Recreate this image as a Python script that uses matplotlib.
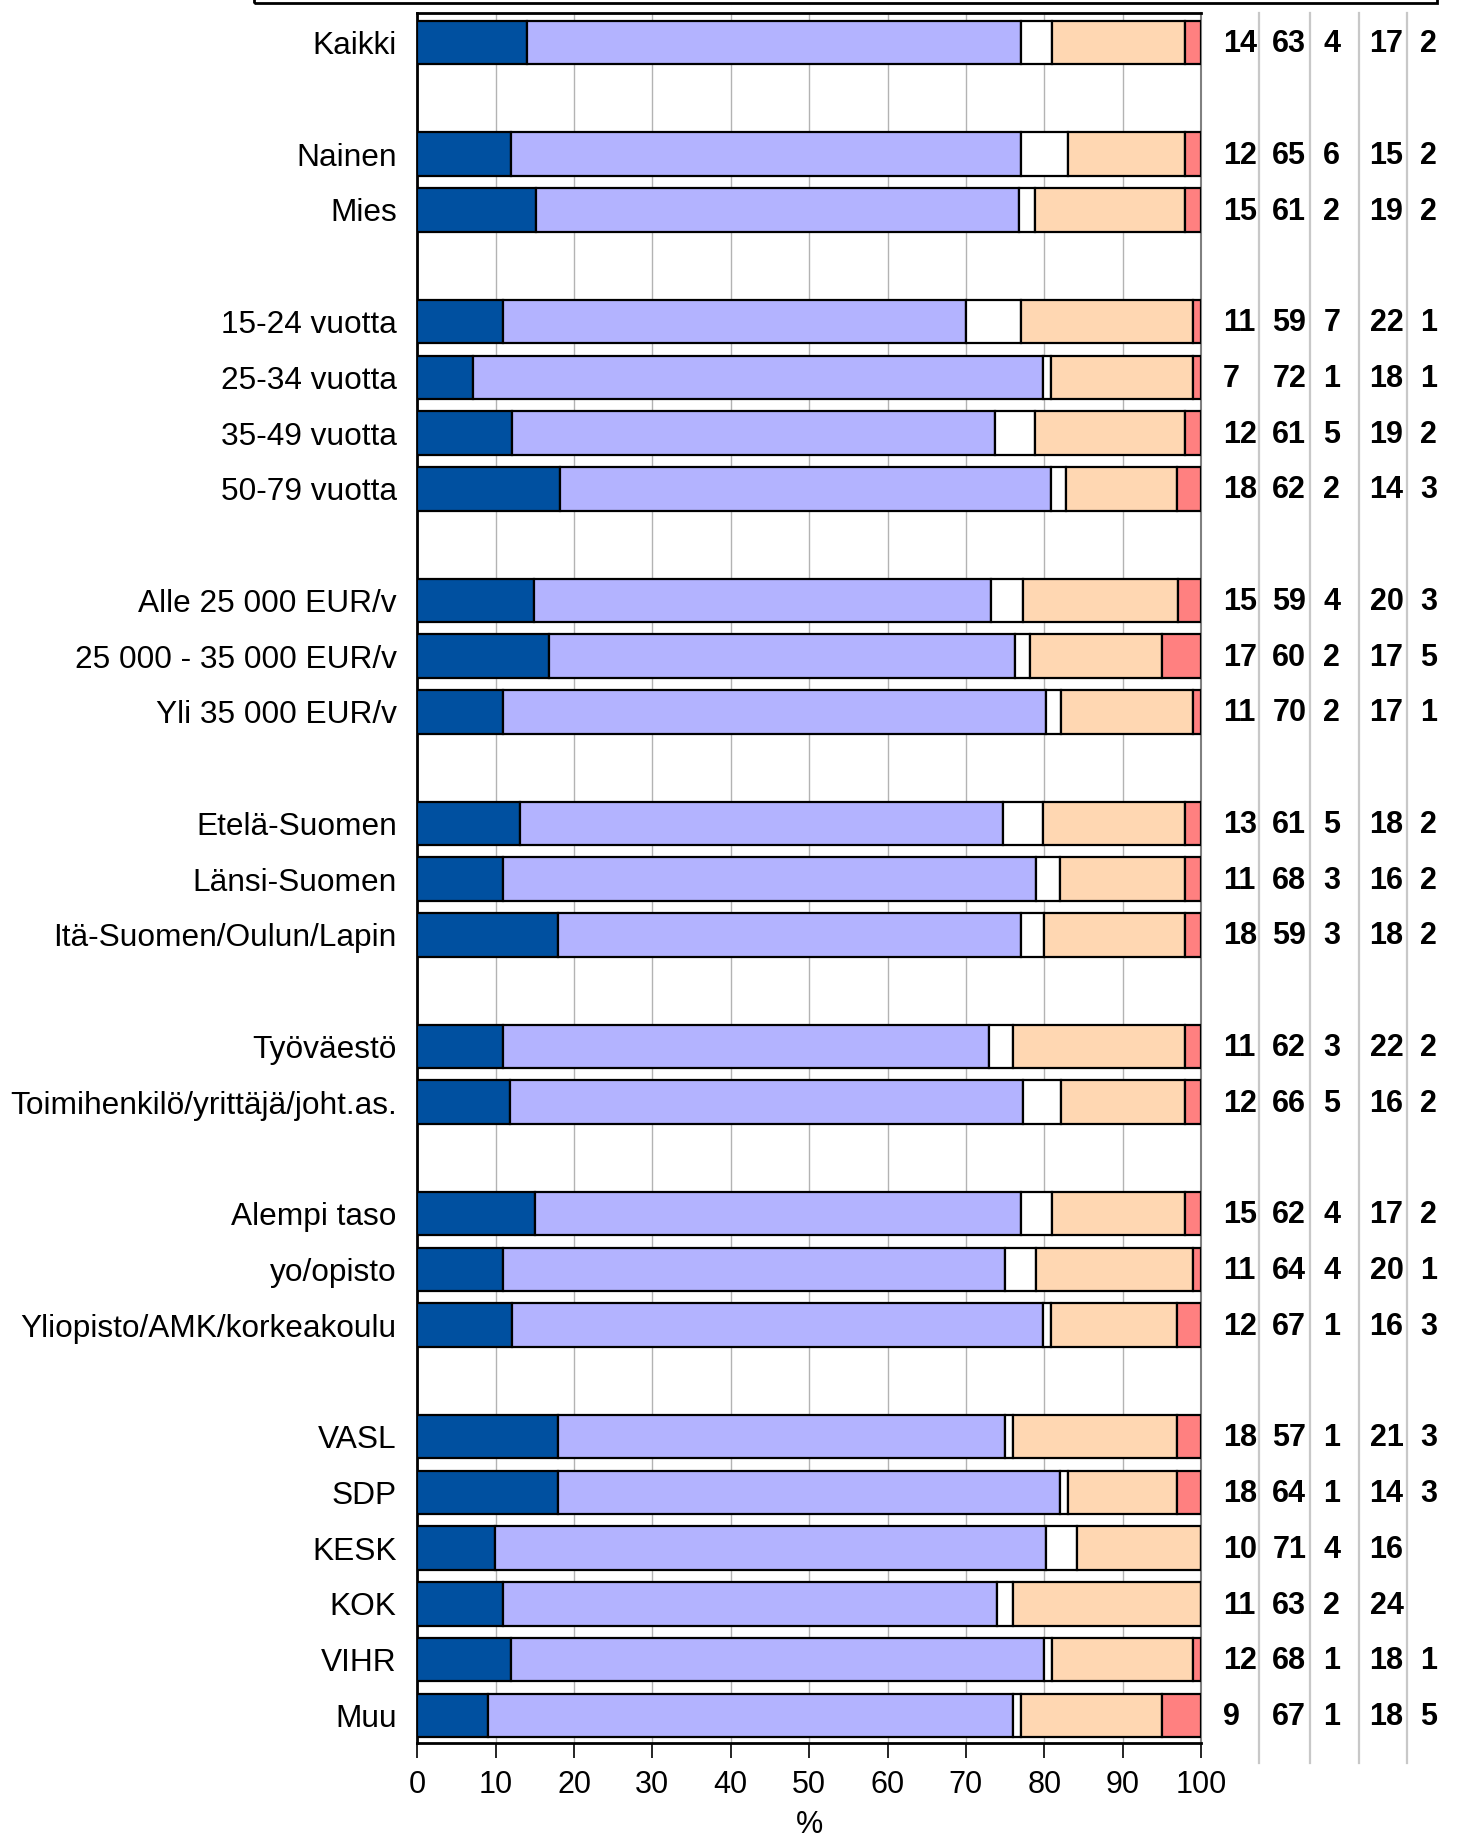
import matplotlib
matplotlib.use("Agg")
import matplotlib.pyplot as plt
from matplotlib.patches import Rectangle
import numpy as np

plt.rcParams['font.family'] = ['Liberation Sans', 'DejaVu Sans']

# groups of rows, a blank slot is left between groups
groups = [
    ["Kaikki"],
    ["Nainen", "Mies"],
    ["15-24 vuotta", "25-34 vuotta", "35-49 vuotta", "50-79 vuotta"],
    ["Alle 25 000 EUR/v", "25 000 - 35 000 EUR/v", "Yli 35 000 EUR/v"],
    ["Etelä-Suomen", "Länsi-Suomen", "Itä-Suomen/Oulun/Lapin"],
    ["Työväestö", "Toimihenkilö/yrittäjä/joht.as."],
    ["Alempi taso", "yo/opisto", "Yliopisto/AMK/korkeakoulu"],
    ["VASL", "SDP", "KESK", "KOK", "VIHR", "Muu"],
]

# series values (%), one entry per row, top to bottom
s1 = [14, 12, 15, 11, 7, 12, 18, 15, 17, 11, 13, 11, 18, 11, 12, 15, 11, 12, 18, 18, 10, 11, 12, 9]
s2 = [63, 65, 61, 59, 72, 61, 62, 59, 60, 70, 61, 68, 59, 62, 66, 62, 64, 67, 57, 64, 71, 63, 68, 67]
s3 = [4, 6, 2, 7, 1, 5, 2, 4, 2, 2, 5, 3, 3, 3, 5, 4, 4, 1, 1, 1, 4, 2, 1, 1]
s4 = [17, 15, 19, 22, 18, 19, 14, 20, 17, 17, 18, 16, 18, 22, 16, 17, 20, 16, 21, 14, 16, 24, 18, 18]
s5 = [2, 2, 2, 1, 1, 2, 3, 3, 5, 1, 2, 2, 2, 2, 2, 2, 1, 3, 3, 3, 0, 0, 1, 5]

colors = ['#0050A0', '#B3B3FF', '#FFFFFF', '#FFD7B2', '#FF8080']
xticks = [0, 10, 20, 30, 40, 50, 60, 70, 80, 90, 100]

# row positions from the group structure
labels = []
ypos = []
slot = 0
for g in groups:
    for name in g:
        labels.append(name)
        ypos.append(slot)
        slot += 1
    slot += 1
ypos = np.array(ypos)

series = np.array([s1, s2, s3, s4, s5], dtype=float)
shares = series / series.sum(axis=0) * 100  # rounded values scaled to 100

fig = plt.figure(figsize=(14.57, 18.39), dpi=100)
ax = fig.add_axes([0.2864, 0.05237, 0.5379, 0.94056])

left = np.zeros(len(labels))
for k in range(5):
    ax.barh(ypos, shares[k], left=left, height=0.78, color=colors[k],
            edgecolor='black', linewidth=1.6, zorder=3)
    left += shares[k]

ax.set_xlim(0, 100)
ax.set_ylim(30.49, -0.533)
ax.set_yticks(ypos)
ax.set_yticklabels(labels, fontsize=22.8)
ax.set_xticks(xticks)
ax.set_xticklabels([str(t) for t in xticks], fontsize=22)
ax.tick_params(axis='y', length=0, pad=14.8)
ax.tick_params(axis='x', length=10.8, width=1.2, pad=9, direction='out')
ax.set_xlabel('%', fontsize=22, labelpad=7)

ax.grid(axis='x', color='#B3B3B3', linewidth=1, zorder=0)
ax.set_axisbelow(True)
for side in ['top', 'left', 'bottom']:
    ax.spines[side].set_linewidth(2)
    ax.spines[side].set_color('black')
ax.spines['right'].set_color('#808080')
ax.spines['right'].set_linewidth(1.5)

# number columns on the right
col_x = [102.8, 109.1, 115.6, 121.5, 128.0]
sep_x = [107.4, 113.96, 120.2, 126.3]
trans = matplotlib.transforms.blended_transform_factory(ax.transData, ax.transAxes)
for sx in sep_x:
    ax.plot([sx, sx], [1, -0.0117], color='#C8C8C8', linewidth=1.6,
            transform=trans, clip_on=False)
for k in range(5):
    for i, y in enumerate(ypos):
        v = series[k][i]
        if v == 0:
            continue
        ax.text(col_x[k], y + 0.03, str(int(v)), ha='left', va='center',
                fontsize=22, fontweight='bold', clip_on=False)

# bottom edge of the legend box cut off at the top of the picture
fig.add_artist(Rectangle((254 / 1457, 1 - 3 / 1839), (1437 - 254) / 1457, 0.05,
                         transform=fig.transFigure, fill=False,
                         edgecolor='black', linewidth=2))

fig.savefig('out.png', dpi=100)
